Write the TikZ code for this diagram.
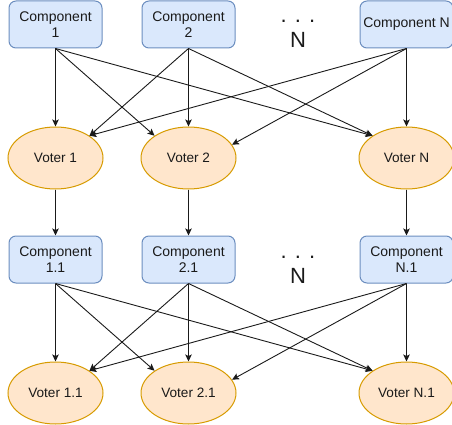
\documentclass[tikz,border=0pt]{standalone}
\usepackage{fontspec}
\setmainfont{Liberation Sans}
\usetikzlibrary{shapes.geometric,arrows.meta}

\definecolor{compfill}{HTML}{DAE8FC}
\definecolor{compline}{HTML}{6C8EBF}
\definecolor{votefill}{HTML}{FFE6CC}
\definecolor{voteline}{HTML}{D79B00}
\definecolor{ink}{HTML}{1A1A1A}

\tikzset{
  compbox/.style={draw=compline, fill=compfill, line width=1pt,
    rounded corners=7pt, minimum width=93pt, minimum height=47pt,
    inner sep=0pt, align=center, text=ink,
    font=\fontsize{14}{16}\selectfont},
  votebox/.style={ellipse, draw=voteline, fill=votefill, line width=1pt,
    minimum width=95pt, minimum height=62pt, inner sep=0pt, text=ink,
    font=\fontsize{13.6}{16}\selectfont},
  dotlabel/.style={anchor=base, inner sep=0pt, text=ink,
    font=\fontsize{22}{25}\selectfont},
  link/.style={draw=ink, line width=0.9pt,
    -{Stealth[length=7pt, width=6.5pt, inset=1.5pt]}}
}

\begin{document}
\begin{tikzpicture}[x=1pt, y=-1pt]
  \useasboundingbox (0,0) rectangle (452,425);

  % first stage: components and their voters
  \node[compbox] (c1) at (55.5,24.5) {Component\\1};
  \node[compbox] (c2) at (188.5,24.5) {Component\\2};
  \node[compbox] (cN) at (406.5,24.5) {Component N};
  \node[dotlabel] (d1) at (298,23) {. . .};
  \node[dotlabel] (n1) at (298,48) {N};

  \node[votebox] (v1) at (55.5,158) {Voter 1};
  \node[votebox] (v2) at (188.5,158) {Voter 2};
  \node[votebox] (vN) at (406.5,158) {Voter N};

  % second stage
  \node[compbox] (c11) at (55.5,259.5) {Component\\1.1};
  \node[compbox] (c21) at (188.5,259.5) {Component\\2.1};
  \node[compbox] (cN1) at (406.5,259.5) {Component\\N.1};
  \node[dotlabel] (d2) at (298,258) {. . .};
  \node[dotlabel] (n2) at (298,283) {N};

  \node[votebox] (v11) at (55.5,393) {Voter 1.1};
  \node[votebox] (v21) at (188.5,393) {Voter 2.1};
  \node[votebox] (vN1) at (406.5,393) {Voter N.1};

  % every component feeds every voter of its stage
  \draw[link] (c1.south) -- (v1.north);
  \draw[link] (c1.south) -- (v2.north west);
  \draw[link] (c1.south) -- (vN.north west);
  \draw[link] (c2.south) -- (v1.north east);
  \draw[link] (c2.south) -- (v2.north);
  \draw[link] (c2.south) -- (vN.north west);
  \draw[link] (cN.south) -- (v1.north east);
  \draw[link] (cN.south) -- (v2.17);
  \draw[link] (cN.south) -- (vN.north);

  % voters pass on to the next stage
  \draw[link] (v1.south) -- (c11.north);
  \draw[link] (v2.south) -- (c21.north);
  \draw[link] (vN.south) -- (cN1.north);

  \draw[link] (c11.south) -- (v11.north);
  \draw[link] (c11.south) -- (v21.north west);
  \draw[link] (c11.south) -- (vN1.north west);
  \draw[link] (c21.south) -- (v11.north east);
  \draw[link] (c21.south) -- (v21.north);
  \draw[link] (c21.south) -- (vN1.north west);
  \draw[link] (cN1.south) -- (v11.north east);
  \draw[link] (cN1.south) -- (v21.17);
  \draw[link] (cN1.south) -- (vN1.north);
\end{tikzpicture}
\end{document}
